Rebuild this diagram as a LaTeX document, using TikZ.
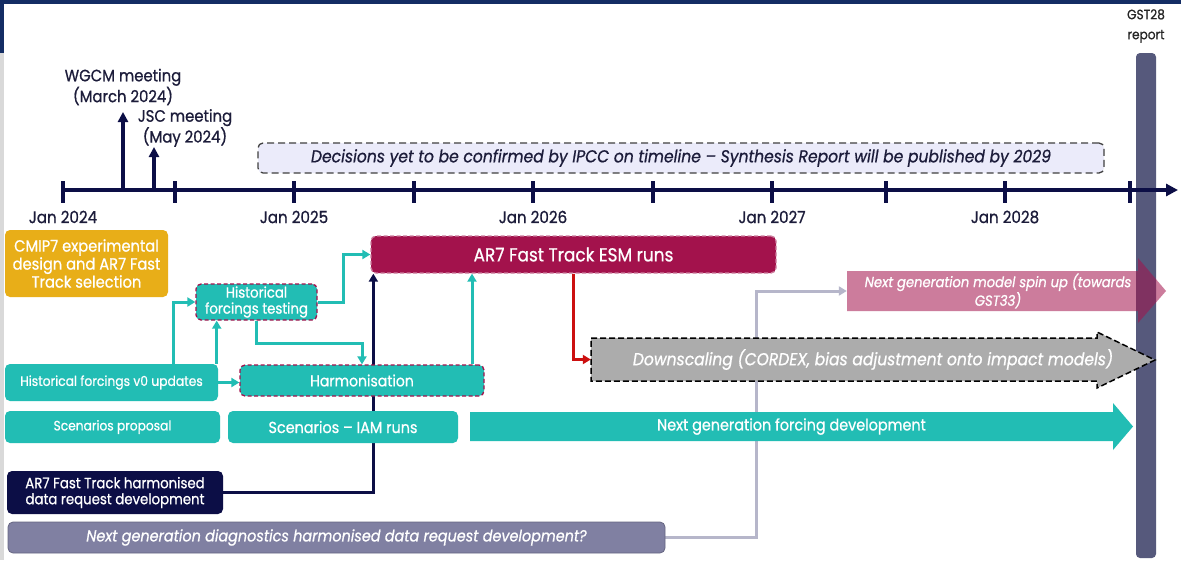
\documentclass[tikz,border=0pt]{standalone}
\usepackage{fontspec}
\setmainfont{Poppins}[FakeStretch=0.9, FakeBold=0.8]
\usetikzlibrary{arrows.meta}

\definecolor{teal1}{RGB}{34,189,180}
\definecolor{crim}{RGB}{163,18,76}
\definecolor{navy}{RGB}{12,14,70}
\definecolor{inknavy}{RGB}{28,28,58}
\definecolor{gold}{RGB}{232,174,24}
\definecolor{slate}{RGB}{86,89,124}
\definecolor{lilac}{RGB}{128,128,162}
\definecolor{fog}{RGB}{235,235,250}
\definecolor{ashgray}{RGB}{172,172,172}
\definecolor{linkgray}{RGB}{182,182,202}
\definecolor{redlink}{RGB}{204,16,16}
\definecolor{banner}{RGB}{20,45,100}

\pgfdeclarelayer{bottom}
\pgfdeclarelayer{background}
\pgfsetlayers{bottom,background,main}

\tikzset{
  box/.style={rounded corners=5pt, text=white, align=center, inner sep=0pt},
  tealbox/.style={box, fill=teal1},
  trialbox/.style={tealbox, draw=crim, dash pattern=on 4pt off 2.5pt, line width=1.3pt},
  link/.style={line width=3pt, -{Triangle[length=8pt,width=9pt]}},
  tickline/.style={line width=3.5pt, navy},
  fs/.style n args={2}{font=\fontsize{#1}{#2}\selectfont},
  fsi/.style n args={2}{font=\fontsize{#1}{#2}\selectfont\itshape},
}

\begin{document}
\begin{tikzpicture}[x=1pt, y=-1pt, fs={16.5}{18}]
  \useasboundingbox (0,0) rectangle (1181,560);
  \begin{pgfonlayer}{bottom}
    \fill[white] (0,0) rectangle (1181,560);
    \fill[banner] (0,0) rectangle (1181,4);
    \fill[banner] (0,0) rectangle (4,53);
    \fill[black!15] (0,53) rectangle (4,560);
  \end{pgfonlayer}

  % GST28 report bar
  \node[fill=slate, rounded corners=4pt, minimum width=20pt, minimum height=505pt, inner sep=0pt] (gstbar) at (1146,305.5) {};
  \node[align=center, text=black!85, fs={13.5}{20}] (gst) at (1146,26) {GST28\\report};

  % timeline
  \coordinate (t0) at (63,190);
  \coordinate (tend) at (1178,190);
  \draw[tickline, -{Triangle[length=12pt,width=12pt]}] (t0) -- (tend);
  \foreach \x in {63,175,294,414,533,653,772,886,1005,1130}
    \draw[tickline] (\x,181) -- (\x,203);
  \foreach \x / \yr in {63/2024, 294/2025, 533/2026, 772/2027, 1005/2028}
    \node[text=inknavy, fs={16.8}{18}] (jan\yr) at (\x,217) {Jan \yr};

  % meetings
  \coordinate (wgcmfoot) at (123,190);
  \coordinate (wgcmtip) at (123,112);
  \coordinate (jscfoot) at (154,190);
  \coordinate (jsctip) at (154,147);
  \node[align=center, text=inknavy] (wgcm) at (123,87) {WGCM meeting\\(March 2024)};
  \node[align=center, text=inknavy] (jsc) at (185,128) {JSC meeting\\(May 2024)};
  \draw[tickline, -{Triangle[length=10pt,width=10pt]}] (wgcmfoot) -- (wgcmtip);
  \draw[tickline, -{Triangle[length=10pt,width=10pt]}] (jscfoot) -- (jsctip);

  \node[draw=black!75, dash pattern=on 7pt off 4pt, line width=1.3pt, fill=fog, rounded corners=5pt,
        minimum width=846pt, minimum height=30pt, inner sep=0pt, text=inknavy, fsi={17.3}{18}] (decide) at (681,158)
    {Decisions yet to be confirmed by IPCC on timeline -- Synthesis Report will be published by 2029};

  % boxes
  \node[box, fill=gold, minimum width=163pt, minimum height=67pt, fs={16.3}{18}] (cmip) at (86.5,263.5)
    {CMIP7 experimental\\design and AR7 Fast\\Track selection};
  \node[trialbox, minimum width=121pt, minimum height=36pt, fs={14.8}{16}] (histtest) at (256.5,302)
    {Historical\\forcings testing};
  \node[tealbox, minimum width=213pt, minimum height=37pt, fs={13.7}{16}] (histv0) at (111.5,382.5)
    {Historical forcings v0 updates};
  \node[trialbox, minimum width=244pt, minimum height=31pt, fs={15.6}{18}] (harmon) at (362,380.5) {Harmonisation};
  \node[box, fill=crim, draw=crim!55!white, dash pattern=on 4pt off 2.5pt, line width=1.3pt,
        minimum width=405pt, minimum height=37pt, fs={18.8}{20}] (esm) at (573.5,254.5) {AR7 Fast Track ESM runs};
  \node[tealbox, minimum width=215pt, minimum height=32pt, fs={13.6}{17}] (scenprop) at (112.5,427) {Scenarios proposal};
  \node[tealbox, minimum width=230pt, minimum height=32pt, fs={16}{18}] (scenIAM) at (343,427) {Scenarios -- IAM runs};
  \node[box, fill=navy, minimum width=216pt, minimum height=43pt, fs={14.8}{16}] (ar7dr) at (115,492.5)
    {AR7 Fast Track harmonised\\data request development};
  \node[box, fill=lilac, draw=lilac!80!black, line width=0.8pt, minimum width=657pt, minimum height=31pt, fsi={16}{18}]
    (nextdiag) at (336.5,537.5) {Next generation diagnostics harmonised data request development?};

  % long arrows
  \draw[fill=ashgray, draw=black, dash pattern=on 6pt off 3pt, line width=1.5pt]
    (591,338) -- (1097,338) -- (1097,332) -- (1155,360) -- (1097,388) -- (1097,381) -- (591,381) -- cycle;
  \node[minimum width=564pt, minimum height=43pt, inner sep=0pt, text=white, fsi={17.3}{20}] (downscale) at (873,359.5)
    {Downscaling (CORDEX, bias adjustment onto impact models)};
  \fill[crim, opacity=0.55]
    (847,271) -- (1138,271) -- (1138,258) -- (1166,291) -- (1138,323) -- (1138,311) -- (847,311) -- cycle;
  \node[minimum width=302pt, minimum height=40pt, inner sep=0pt, align=center, text=white, fsi={14.6}{17}] (spinup) at (998,291)
    {Next generation model spin up (towards\\GST33)};
  \fill[teal1]
    (470,412) -- (1113,412) -- (1113,403) -- (1133,426.5) -- (1113,450) -- (1113,441) -- (470,441) -- cycle;
  \node[minimum width=643pt, minimum height=29pt, inner sep=0pt, text=white, fs={16}{18}] (nextforce) at (791.5,426.5)
    {Next generation forcing development};

  % connectors
  \coordinate (v0up) at ([xshift=-1.5pt]histv0.north east);
  \coordinate (harmup) at ([xshift=110pt]harmon.north);
  \coordinate (esmin) at ([xshift=3pt]esm.south west);
  \draw[link, teal1] ([xshift=61.5pt]histv0.north) |- (histtest.west);
  \draw[link, teal1] (v0up) -- (v0up |- histtest.south);
  \draw[link, teal1] (histv0.east) -- (histv0.east -| harmon.west);
  \draw[link, teal1] (histtest.south) -- ++(0,23) -| (harmon.north);
  \draw[link, teal1] (histtest.east) -- ++(26,0) |- (esm.west);
  \draw[link, teal1] (harmup) -- (harmup |- esm.south);
  \draw[link, redlink] (esm.south) |- (downscale.west);
  \begin{pgfonlayer}{background}
    \draw[link, navy] (ar7dr.east) -| (esmin);
    \draw[link, linkgray] (nextdiag.east) -- ++(91,0) |- (spinup.west);
  \end{pgfonlayer}
\end{tikzpicture}
\end{document}
